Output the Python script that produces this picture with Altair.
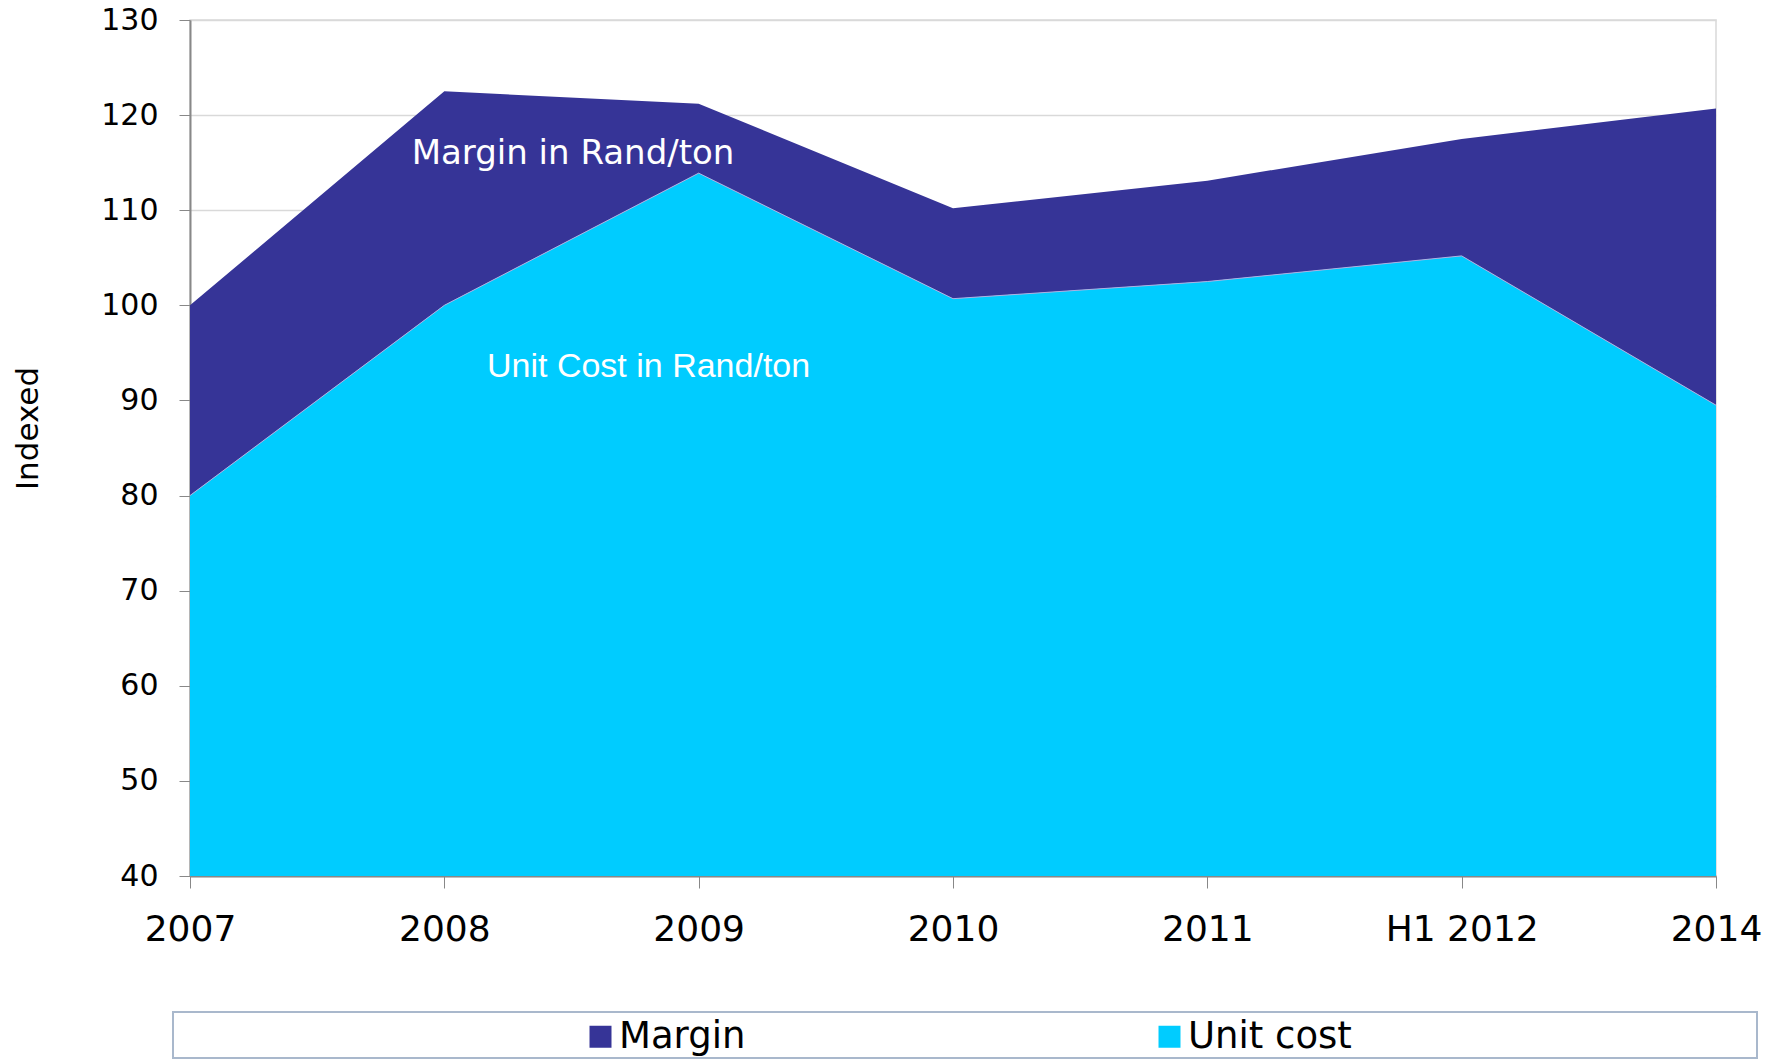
import json
import altair as alt
import pandas as pd

categories = ["2007", "2008", "2009", "2010", "2011", "H1 2012", "2014"]
unit_cost = [80.0, 100.0, 113.9, 100.7, 102.5, 105.2, 89.5]
margin = [20.0, 22.5, 7.3, 9.5, 10.6, 12.3, 31.2]
y_ticks = [40, 50, 60, 70, 80, 90, 100, 110, 120, 130]

series_names = ["Margin", "Unit cost"]
series_colors = ["#363497", "#00CCFF"]

idx = list(range(len(categories)))
total = [u + m for u, m in zip(unit_cost, margin)]

unit_df = pd.DataFrame({"idx": idx, "top": unit_cost, "series": "Unit cost"})
margin_df = pd.DataFrame({"idx": idx, "top": total, "bottom": unit_cost, "series": "Margin"})

ann_margin = pd.DataFrame({"idx": [1.506], "v": [115.96], "label": ["Margin in Rand/ton"]})
ann_unit = pd.DataFrame({"idx": [1.803], "v": [93.52], "label": ["Unit Cost in Rand/ton"]})

label_expr = json.dumps(categories) + "[datum.value]"

x_enc = alt.X(
    "idx:Q",
    scale=alt.Scale(domain=[0, len(categories) - 1], nice=False, zero=False),
    axis=alt.Axis(
        values=idx,
        labelExpr=label_expr,
        title=None,
        grid=False,
        labelFontSize=36,
        labelFont="DejaVu Sans",
        labelColor="#000000",
        labelPadding=24,
        tickSize=12,
        tickColor="#888888",
        domainColor="#888888",
        domainWidth=2,
        labelFlush=False,
        labelOverlap=False,
    ),
)

y_scale = alt.Scale(domain=[40, 130], nice=False, zero=False)
y_axis = alt.Axis(
    values=y_ticks,
    title="Indexed",
    titleFontSize=31,
    titleFont="DejaVu Sans",
    titleFontWeight="normal",
    titleColor="#000000",
    titleAngle=270,
    titleAlign="center",
    titleBaseline="alphabetic",
    titleX=-153,
    titleY=408,
    labelFontSize=30,
    labelFont="DejaVu Sans",
    labelColor="#000000",
    labelPadding=21,
    tickSize=11,
    tickColor="#888888",
    domainColor="#888888",
    domainWidth=2,
    grid=True,
    gridColor="#d9d9d9",
    gridWidth=1.5,
)

color_enc = alt.Color(
    "series:N",
    scale=alt.Scale(domain=series_names, range=series_colors),
    legend=alt.Legend(
        title=None,
        orient="none",
        legendX=392,
        legendY=998,
        direction="horizontal",
        columns=2,
        columnPadding=405,
        symbolType="square",
        symbolSize=484,
        symbolStrokeWidth=0,
        symbolOpacity=1,
        labelFontSize=37,
        labelFont="DejaVu Sans",
        labelColor="#000000",
        labelOffset=0,
        labelLimit=400,
        padding=0,
    ),
)

frame = alt.Chart(pd.DataFrame({"k": [0]})).mark_rect(
    fill="#ffffff", stroke="#a9b8cc", strokeWidth=2
).encode(
    x=alt.value(-17), x2=alt.value(1567), y=alt.value(992), y2=alt.value(1038)
)

unit_area = alt.Chart(unit_df).mark_area(opacity=1, clip=True).encode(
    x=x_enc,
    y=alt.Y("top:Q", scale=y_scale, axis=y_axis),
    y2=alt.datum(40),
    color=color_enc,
)

margin_area = alt.Chart(margin_df).mark_area(opacity=1, clip=True).encode(
    x="idx:Q",
    y="top:Q",
    y2="bottom:Q",
    color=color_enc,
)

edge = alt.Chart(unit_df).mark_line(color="#a9b4e4", strokeWidth=1).encode(
    x="idx:Q", y="top:Q"
)

t_margin = alt.Chart(ann_margin).mark_text(
    font="DejaVu Sans", fontSize=34, color="#ffffff", align="center", baseline="middle"
).encode(x="idx:Q", y="v:Q", text="label:N")

t_unit = alt.Chart(ann_unit).mark_text(
    font="Liberation Sans", fontSize=34, color="#ffffff", align="center", baseline="middle"
).encode(x="idx:Q", y="v:Q", text="label:N")

chart = alt.layer(frame, unit_area, margin_area, edge, t_margin, t_unit).properties(
    width=1526,
    height=856,
    autosize=alt.AutoSizeParams(type="none"),
    padding={"left": 190, "top": 20, "right": 69, "bottom": 184},
    background="#ffffff",
).configure_view(stroke="#d9d9d9", strokeWidth=1.5)

chart.save("out.html", embed_options={"renderer": "svg", "actions": False})
